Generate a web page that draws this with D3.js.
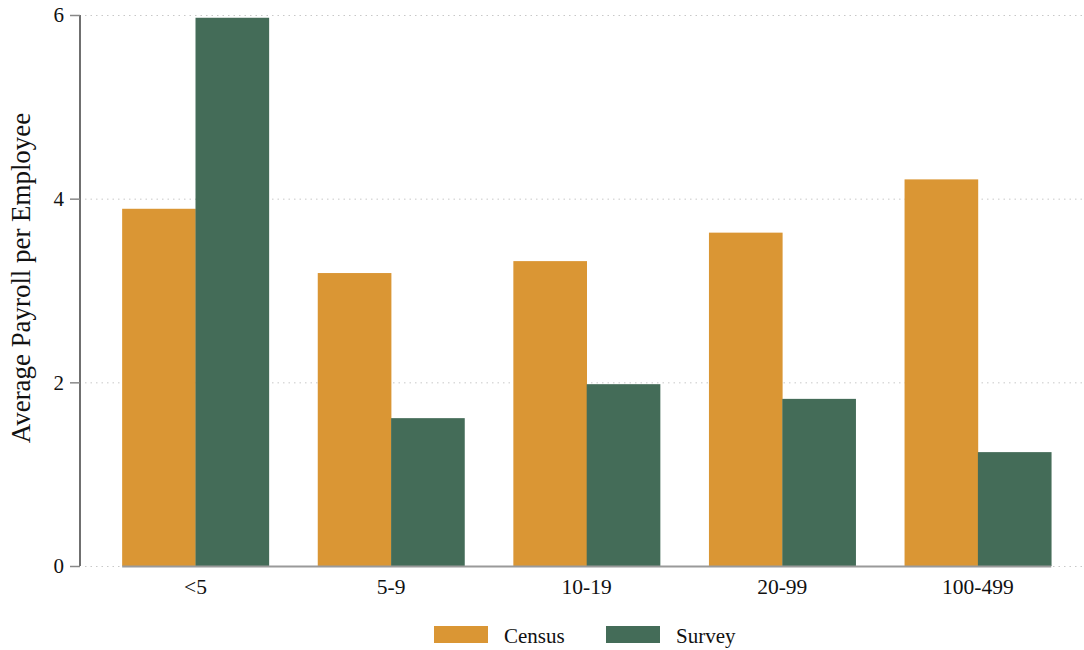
<!DOCTYPE html>
<html>
  <head>
    <meta charset="utf-8">
    <title>Average Payroll per Employee</title>
    <style>
      body { margin: 0; background: #fff; }
      svg text { font-family: "Liberation Serif", "DejaVu Serif", serif; fill: #111; }
      .grid line { stroke: #c8c8c8; stroke-width: 1px; stroke-dasharray: 1.5,4; }
    </style>
    <script src="https://d3js.org/d3.v7.min.js"></script>
  </head>
  <body>
  <script type="text/javascript">
    var width = 1084;
    var height = 650;
    var serif = "'Liberation Serif', 'DejaVu Serif', serif";

    // data
    var sizes = ["<5", "5-9", "10-19", "20-99", "100-499"];
    var census = [3.89, 3.19, 3.32, 3.63, 4.21];
    var survey = [5.97, 1.61, 1.98, 1.82, 1.24];
    var seriesNames = ["Census", "Survey"];
    var seriesColors = ["#da9634", "#446c58"];
    var yTicks = [0, 2, 4, 6];

    var rows = sizes.map(function(s, i){
      return { size: s, values: [census[i], survey[i]] };
    });

    var svg = d3.select("body")
                .append("svg")
                .attr("width", width)
                .attr("height", height);

    var x = d3.scaleBand()
        .domain(sizes)
        .range([97.7, 1075.7])
        .paddingInner(0.25)
        .paddingOuter(0.125);

    var xs = d3.scaleBand()
        .domain(seriesNames)
        .range([0, x.bandwidth()]);

    var y = d3.scaleLinear()
        .domain([0, 6])
        .range([566, 15]);

    // dotted gridlines
    svg.append("g")
       .attr("class", "grid")
       .selectAll("line")
       .data(yTicks)
       .enter()
       .append("line")
         .attr("x1", 85)
         .attr("x2", 1084)
         .attr("y1", function(d){ return y(d) + 0.5; })
         .attr("y2", function(d){ return y(d) + 0.5; });

    // bars
    var groups = svg.selectAll(".grp")
       .data(rows)
       .enter()
       .append("g")
         .attr("class", "grp")
         .attr("transform", function(d){ return "translate(" + x(d.size) + ",0)"; });

    groups.selectAll("rect")
       .data(function(d){ return d.values.map(function(v, i){ return { name: seriesNames[i], v: v, c: seriesColors[i] }; }); })
       .enter()
       .append("rect")
         .attr("x", function(d){ return xs(d.name); })
         .attr("width", xs.bandwidth() + 0.3)
         .attr("y", function(d){ return y(d.v); })
         .attr("height", function(d){ return y(0) - y(d.v); })
         .attr("fill", function(d){ return d.c; });

    // baseline under the bars
    svg.append("line")
       .attr("x1", x(sizes[0]))
       .attr("x2", x(sizes[sizes.length - 1]) + x.bandwidth())
       .attr("y1", y(0) + 0.5)
       .attr("y2", y(0) + 0.5)
       .attr("stroke", "#9a9a9a")
       .attr("stroke-width", 2);

    // y axis
    var yAxis = svg.append("g")
       .attr("transform", "translate(80,0)")
       .call(d3.axisLeft(y).tickValues(yTicks).tickFormat(d3.format("d")).tickSize(10).tickPadding(6));
    yAxis.attr("font-family", serif);
    yAxis.select(".domain").attr("stroke", "#222").attr("stroke-width", 1.3)
         .attr("d", "M0," + y(6) + "V" + y(0));
    yAxis.selectAll(".tick line").attr("stroke", "#888").attr("stroke-width", 1.5);
    yAxis.selectAll(".tick text").attr("font-size", "21px").attr("fill", "#111")
         .attr("font-family", serif);

    // x labels
    svg.append("g")
       .selectAll("text")
       .data(sizes)
       .enter()
       .append("text")
         .attr("x", function(d){ return x(d) + x.bandwidth() / 2; })
         .attr("y", 594)
         .attr("text-anchor", "middle")
         .attr("font-family", serif)
         .attr("font-size", "21.5px")
         .text(function(d){ return d; });

    // y title
    svg.append("text")
       .attr("transform", "translate(30,278) rotate(-90)")
       .attr("text-anchor", "middle")
       .attr("font-family", serif)
       .attr("font-size", "26.9px")
       .text("Average Payroll per Employee");

    // legend
    var legX = [434, 606];
    var leg = svg.selectAll(".leg")
       .data(seriesNames)
       .enter()
       .append("g")
         .attr("class", "leg")
         .attr("transform", function(d, i){ return "translate(" + legX[i] + ",626)"; });
    leg.append("rect")
       .attr("width", 54)
       .attr("height", 17)
       .attr("fill", function(d, i){ return seriesColors[i]; });
    leg.append("text")
       .attr("x", 70)
       .attr("y", 17)
       .attr("font-family", serif)
       .attr("font-size", "21px")
       .text(function(d){ return d; });
  </script>
  </body>
</html>
